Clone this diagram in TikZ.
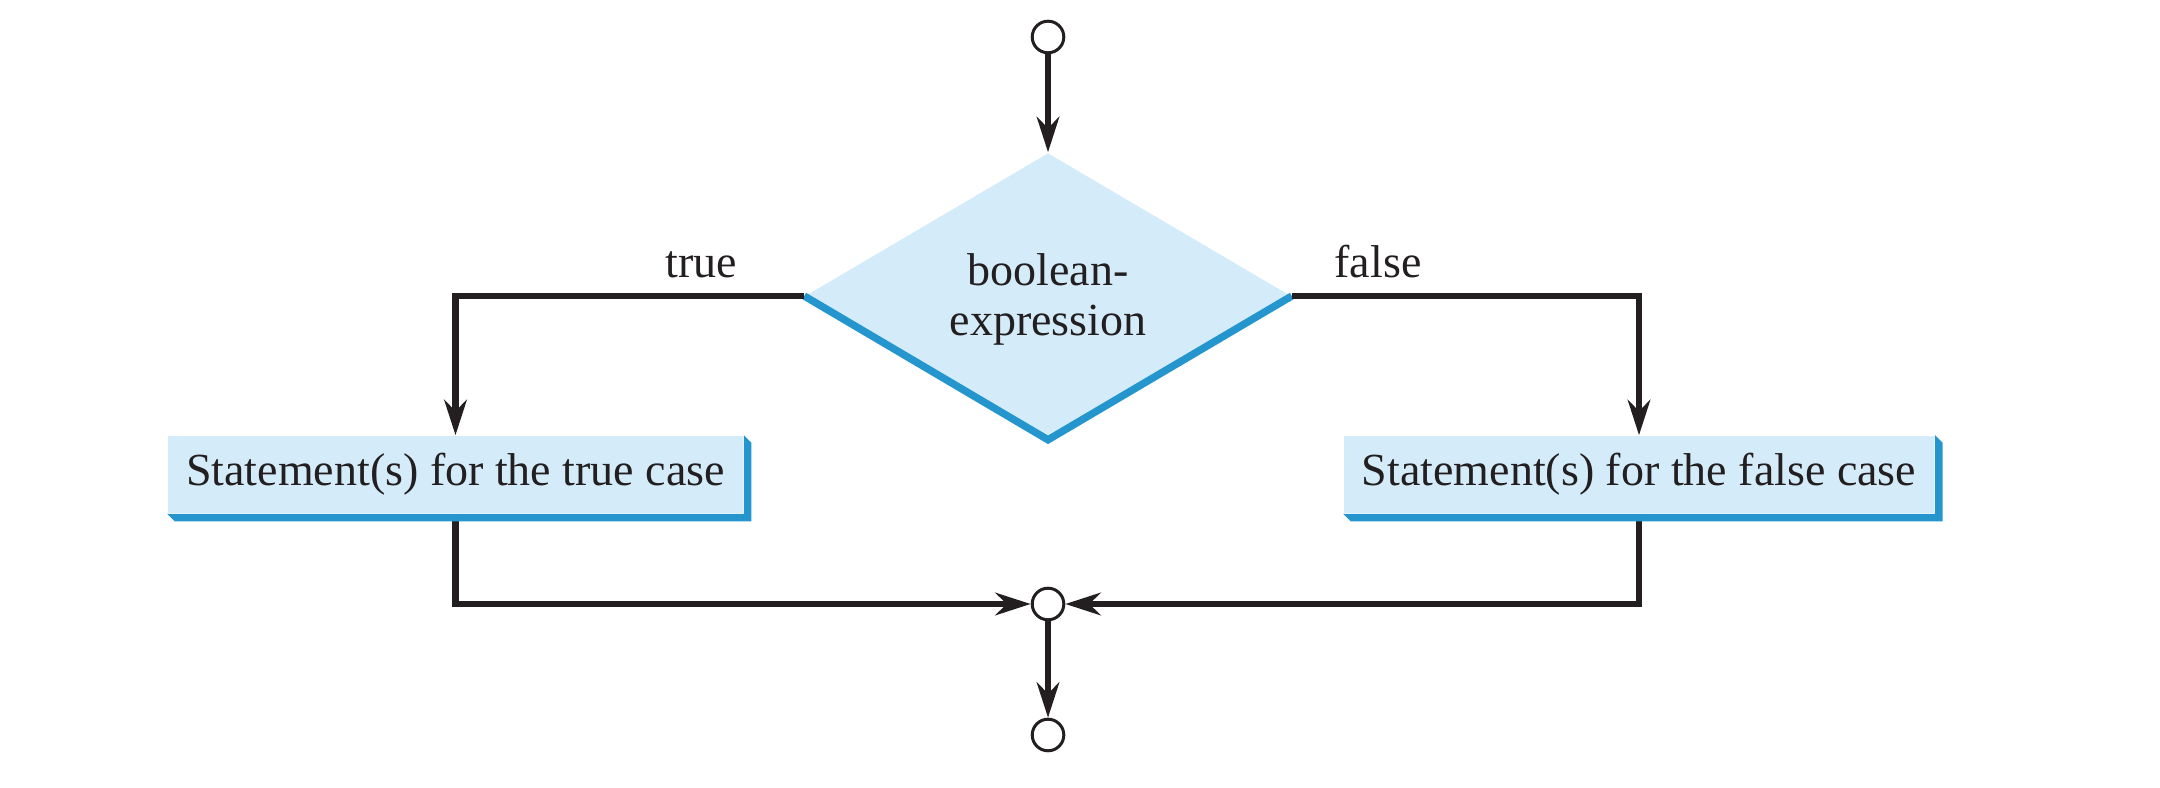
\documentclass[tikz,border=0pt]{standalone}
\usepackage{fontspec}
\setmainfont{Liberation Serif}
\usetikzlibrary{shapes.geometric,arrows.meta}
\definecolor{boxfill}{HTML}{D4ECF9}
\definecolor{edgeblue}{HTML}{2596CD}
\definecolor{ink}{HTML}{231F20}
\tikzset{
  every node/.style={font=\fontsize{11.5}{12.5}\selectfont, text=ink},
  circ/.style={circle, draw=ink, line width=0.75pt, fill=white, minimum size=7.9pt, inner sep=0pt},
  decision/.style={diamond, fill=boxfill, minimum width=121.5pt, minimum height=71.5pt, inner sep=0pt},
  dtext/.style={align=center, inner sep=0pt},
  stmt/.style={rectangle, fill=boxfill, inner xsep=4.5pt, inner ysep=0pt, minimum height=19.25pt},
  conn/.style={draw=ink, line width=1.6pt, line join=miter, -{Stealth[length=8.8pt, width=5.6pt, inset=2.8pt]}},
  shadowfill/.style={fill=edgeblue},
  lowedge/.style={draw=edgeblue, line width=1.85pt, line join=miter}
}
\begin{document}
\begin{tikzpicture}[x=0.25pt, y=-0.25pt]
\useasboundingbox (0,0) rectangle (2160,788);
\node[circ] (T) at (1048,37) {};
\node[decision] (D) at (1048,296) {};
\draw[lowedge] (D.west) -- (D.south) -- (D.east);
\node[dtext] (Dt) at (1048,299) {boolean-\\expression};
\node[stmt] (b1) at (455.5,474.5) {Statement(s) for the true case};
\node[stmt] (b2) at (1639,474.5) {Statement(s) for the false case};
\node[circ] (M) at (1048,604) {};
\node[circ] (E) at (1048,735) {};
\node[anchor=base] (lt) at (701,278) {true};
\node[anchor=base] (lf) at (1378,278) {false};
\draw[conn] (T.south) -- (D.north);
\draw[conn] (D.west) -| (b1.north);
\draw[conn] (D.east) -| (b2.north);
\draw[conn] (b1.south) |- (M.west);
\draw[conn] (b2.south) |- (M.east);
\draw[conn] (M.south) -- (E.north);
\foreach \b in {b1,b2}{
  \fill[shadowfill] (\b.north east) -- ([xshift=1.9pt,yshift=-1.9pt]\b.north east)
    -- ([xshift=1.9pt,yshift=-1.9pt]\b.south east) -- ([xshift=1.9pt,yshift=-1.9pt]\b.south west)
    -- (\b.south west) -- (\b.south east) -- cycle;
}
\end{tikzpicture}
\end{document}
